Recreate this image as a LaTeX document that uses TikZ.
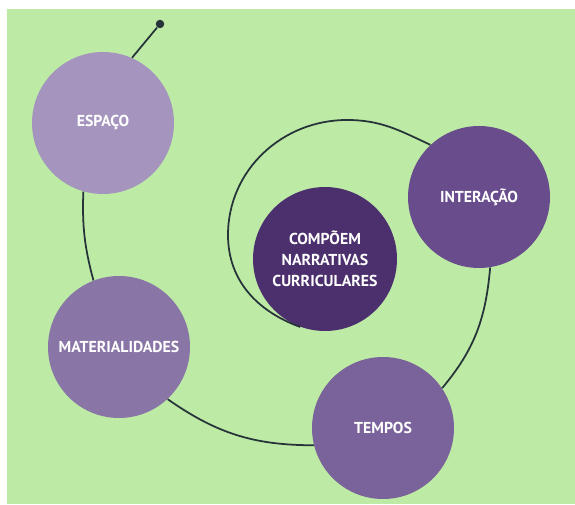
\documentclass[tikz,border=0pt]{standalone}
\usepackage{fontspec}
\setmainfont{PT Sans}

\definecolor{bggreen}{RGB}{189,235,166}
\definecolor{linkcol}{RGB}{38,52,58}
\definecolor{espacocol}{RGB}{164,148,190}
\definecolor{matercol}{RGB}{137,117,166}
\definecolor{temposcol}{RGB}{122,99,154}
\definecolor{intercol}{RGB}{104,76,140}
\definecolor{centercol}{RGB}{76,48,110}

\begin{document}
\begin{tikzpicture}[
  bubble/.style={circle, inner sep=0pt, minimum size=\bubblesize, align=center,
    text=white, font=\bfseries\fontsize{9}{11.9}\selectfont},
  link/.style={draw=linkcol, line width=1pt}
]
% Set the sizes
\def\bubblesize{2.84cm}

% Background
\useasboundingbox (0, 0) rectangle (11.5, 10.08);
\fill[bggreen] (0.14, 0) rectangle (11.5, 9.90);

% Draw the circles and insert the words
\node[bubble, fill=espacocol] (espaco) at (2.06, 7.62) {ESPAÇO};
\node[bubble, fill=matercol] (mater) at (2.38, 3.14) {MATERIALIDADES};
\node[bubble, fill=temposcol] (tempos) at (7.66, 1.52) {TEMPOS};
\node[bubble, fill=intercol] (inter) at (9.58, 6.14) {INTERAÇÃO};
\node[bubble, fill=centercol, minimum size=2.88cm] (center) at (6.50, 4.90) {COMPÕEM\\NARRATIVAS\\CURRICULARES};
\node[circle, fill=linkcol, inner sep=0pt, minimum size=0.17cm] (start) at (3.20, 9.60) {};

% Draw the spiral line
\draw[link] (start) -- (espaco.66);
\draw[link] (espaco.254) to[out=-92, in=105] (mater.111);
\draw[link] (mater.-47) to[out=-35, in=180] (tempos.194);
\draw[link] (tempos.34) to[out=50, in=-95] (inter.-81);
\draw[link] (inter.133) to[out=155, in=0] (6.94, 7.68)
  to[out=180, in=90] (4.56, 5.38)
  to[out=-90, in=160] (center.250);
\end{tikzpicture}
\end{document}
